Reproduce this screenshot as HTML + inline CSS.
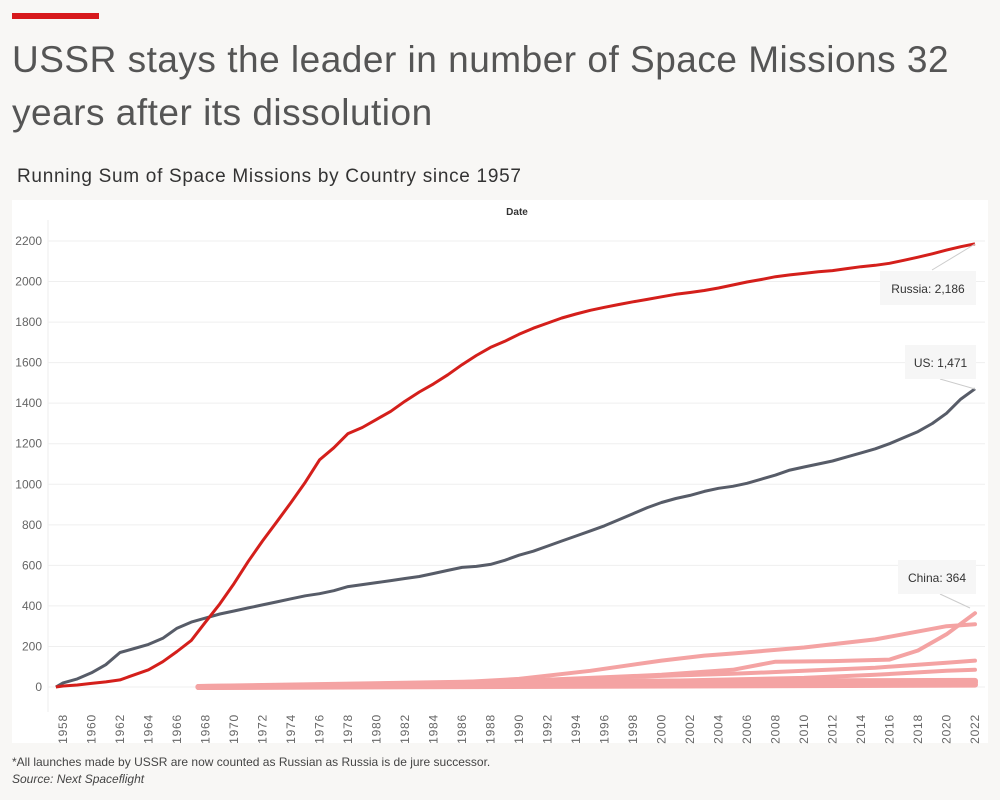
<!DOCTYPE html>
<html><head><meta charset="utf-8"><style>
body{margin:0;width:1000px;height:800px;background:#f8f7f5;font-family:"Liberation Sans",sans-serif;overflow:hidden;position:relative}
.abs{position:absolute}
</style></head><body>
<div class="abs" style="left:12px;top:13px;width:87px;height:6px;background:#d7191c"></div>
<div class="abs" style="left:12px;top:33px;width:985px;font-size:37px;letter-spacing:0.5px;line-height:53px;color:#555">USSR stays the leader in number of Space Missions 32 years after its dissolution</div>
<div class="abs" style="left:17px;top:166px;font-size:19px;letter-spacing:0.7px;color:#333">Running Sum of Space Missions by Country since 1957</div>
<div class="abs" style="left:12px;top:200px;width:976px;height:543px;background:#fff"></div>
<div class="abs" style="left:12px;top:755px;font-size:12px;color:#444">*All launches made by USSR are now counted as Russian as Russia is de jure successor.</div>
<div class="abs" style="left:12px;top:772px;font-size:12px;color:#444;font-style:italic">Source: Next Spaceflight</div>
<svg class="abs" style="left:0;top:0" width="1000" height="800" id="chart"></svg>
<script>
const yTicks=[0,200,400,600,800,1000,1200,1400,1600,1800,2000,2200];
const xTicks=[1958,1960,1962,1964,1966,1968,1970,1972,1974,1976,1978,1980,1982,1984,1986,1988,1990,1992,1994,1996,1998,2000,2002,2004,2006,2008,2010,2012,2014,2016,2018,2020,2022];
const yearsFull=[1957.5,1958,1959,1960,1961,1962,1963,1964,1965,1966,1967,1968,1969,1970,1971,1972,1973,1974,1975,1976,1977,1978,1979,1980,1981,1982,1983,1984,1985,1986,1987,1988,1989,1990,1991,1992,1993,1994,1995,1996,1997,1998,1999,2000,2001,2002,2003,2004,2005,2006,2007,2008,2009,2010,2011,2012,2013,2014,2015,2016,2017,2018,2019,2020,2021,2022];
const russia=[0,5,10,18,25,35,60,85,125,175,230,320,410,510,620,720,815,910,1010,1120,1180,1250,1280,1320,1360,1410,1455,1495,1540,1590,1635,1675,1705,1740,1770,1795,1820,1840,1858,1873,1887,1900,1912,1925,1937,1946,1956,1968,1983,1998,2010,2024,2033,2040,2048,2054,2064,2073,2080,2090,2105,2120,2137,2155,2172,2186];
const us=[0,20,40,70,110,170,190,210,240,290,320,340,360,375,390,405,420,435,450,460,475,495,505,515,525,535,545,560,575,590,595,605,625,650,670,695,720,745,770,795,825,855,885,910,930,945,965,980,990,1005,1025,1045,1070,1085,1100,1115,1135,1155,1175,1200,1230,1260,1300,1350,1420,1471];
const otherYears=[[1967.5,1975,1980,1985,1990,1995,2000,2003,2005,2010,2015,2020,2022],[1970,1975,1980,1985,1990,1995,2000,2005,2008,2012,2016,2018,2020,2022],[1967.5,1980,1990,2000,2005,2010,2015,2020,2022],[1967.5,1990,2000,2010,2015,2020,2022],[1967.5,1990,2022],[1967.5,1990,2022],[1967.5,2022]];
const otherVals=[[0,5,10,20,40,80,130,155,165,195,235,300,310],[0,5,10,18,30,45,60,85,125,128,135,180,260,364],[0,5,30,55,65,80,95,120,130],[0,15,30,45,60,80,85],[0,25,30],[0,15,22],[0,12]];
const otherWidth=[4,4,4,4,6,6,6];
const yMin=0,yMax=2200,py0=687,py1=241;
const X=yr=>63+(yr-1958)*14.25;
const Y=v=>py0-(v-yMin)/(yMax-yMin)*(py0-py1);
const svg=document.getElementById('chart');const NS='http://www.w3.org/2000/svg';
function mk(t,a){const e=document.createElementNS(NS,t);for(const k in a)e.setAttribute(k,a[k]);svg.appendChild(e);return e;}
let e=mk('line',{x1:48,x2:48,y1:220,y2:712,stroke:'#eee'});


e=mk('text',{x:517,y:215,'font-size':10,'font-weight':'bold','text-anchor':'middle',fill:'#333'});e.textContent='Date';


yTicks.forEach(v=>{const g=mk('line',{x1:48,x2:985,y1:Y(v),y2:Y(v),stroke:'#efefef'});


const t=mk('text',{x:42,y:Y(v)+4,'font-size':12,'text-anchor':'end',fill:'#666'});t.textContent=v;

});
xTicks.forEach(yr=>{const t=mk('text',{x:0,y:0,'font-size':12,'letter-spacing':'0.8','text-anchor':'end',fill:'#666',transform:`translate(${X(yr)+4},${714}) rotate(-90)`});t.textContent=yr;

});
function path(xs,vs){return xs.map((x,i)=>(i?'L':'M')+X(x).toFixed(1)+','+Y(vs[i]).toFixed(1)).join(' ');}
otherYears.forEach((ys,i)=>{const p=mk('path',{d:path(ys,otherVals[i]),fill:'none',stroke:'#f4a3a3','stroke-width':otherWidth[i],'stroke-linejoin':'round','stroke-linecap':'round'});

});
e=mk('path',{d:path(yearsFull,us),fill:'none',stroke:'#575c68','stroke-width':3,'stroke-linejoin':'round'});


e=mk('path',{d:path(yearsFull,russia),fill:'none',stroke:'#d41f1b','stroke-width':3,'stroke-linejoin':'round'});


function note(name,x,y,w,txt,lx1,ly1,lx2,ly2){let l=mk('line',{x1:lx1,y1:ly1,x2:lx2,y2:ly2,stroke:'#ccc'});


let r=mk('rect',{x:x,y:y,width:w,height:34,fill:'#f6f6f6'});


let t=mk('text',{x:x+w/2,y:y+22,'font-size':12,'text-anchor':'middle',fill:'#333'});t.textContent=txt;

}
note('russia-annotation',880,271,96,'Russia: 2,186',932,270,975,244);
note('us-annotation',905,345,71,'US: 1,471',940,379,975,389);
note('china-annotation',898,560,78,'China: 364',940,594,970,608);
</script>
</body></html>
